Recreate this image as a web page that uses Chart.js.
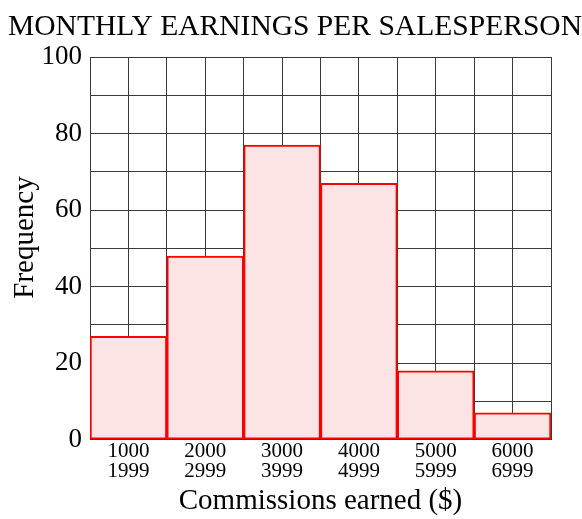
<!DOCTYPE html>
<html>
<head>
<meta charset="utf-8">
<script src="https://cdn.jsdelivr.net/npm/chart.js@4/dist/chart.umd.min.js"></script>
<style>
  html, body { margin: 0; padding: 0; background: #fff; }
  #wrap { width: 582px; height: 519px; }
</style>
</head>
<body>
<div id="wrap"><canvas id="graph" width="582" height="519"></canvas></div>
<script>
// class intervals (lower / upper) and counts
const lowerBounds = ['1000', '2000', '3000', '4000', '5000', '6000'];
const upperBounds = ['1999', '2999', '3999', '4999', '5999', '6999'];
const frequencies = [27, 48, 77, 67, 18, 7];

// the vertical grid splits every class in two halves
const halfSteps = lowerBounds.flatMap(l => [l + 'a', l + 'b']);

const serif = "'Liberation Serif', 'DejaVu Serif', serif";
const gridColor = '#3a3a3a';

const ctx = document.getElementById('graph').getContext('2d');
new Chart(ctx, {
    type: 'bar',
    data: {
        labels: lowerBounds.map((l, i) => [l, upperBounds[i]]),
        datasets: [{
            label: 'Frequency',
            data: frequencies,
            backgroundColor: '#fde4e4',
            borderColor: '#ff0000',
            borderWidth: 2,
            borderSkipped: false,
            barPercentage: 1,
            categoryPercentage: 1
        }]
    },
    options: {
        responsive: false,
        animation: false,
        layout: { padding: { top: 0, right: 0, left: 8, bottom: 0 } },
        plugins: {
            legend: { display: false },
            tooltip: { enabled: false },
            title: {
                display: true,
                text: 'MONTHLY EARNINGS PER SALESPERSON',
                color: '#000',
                font: { family: serif, size: 30, weight: 'normal' },
                padding: { top: 9.5, bottom: 11.5 }
            }
        },
        scales: {
            x: {
                type: 'category',
                offset: true,
                grid: { display: false, drawTicks: false },
                border: { color: gridColor },
                ticks: {
                    maxRotation: 0,
                    padding: 2.3,
                    color: '#000',
                    font: { family: serif, size: 21, lineHeight: 0.95 }
                },
                title: {
                    display: true,
                    text: 'Commissions earned ($)',
                    color: '#000',
                    font: { family: serif, size: 29 },
                    padding: { top: 0, bottom: 0 }
                }
            },
            xGrid: {
                type: 'category',
                labels: halfSteps,
                position: 'bottom',
                offset: true,
                grid: { color: gridColor, lineWidth: 1, drawTicks: false, offset: true },
                border: { display: false },
                ticks: { display: false }
            },
            y: {
                min: 0,
                max: 100,
                grid: { color: gridColor, lineWidth: 1, drawTicks: false },
                border: { color: gridColor },
                afterFit: (scale) => { scale.width = 82; },
                ticks: {
                    stepSize: 10,
                    padding: 8,
                    color: '#000',
                    font: { family: serif, size: 27 },
                    callback: (v) => (v % 20 === 0 ? v : '')
                },
                title: {
                    display: true,
                    // leading spaces nudge the rotated label a little above centre
                    text: '   Frequency',
                    color: '#000',
                    font: { family: serif, size: 29 },
                    padding: { top: 0, bottom: 2 }
                }
            },
            yRight: {
                type: 'linear',
                position: 'right',
                grid: { display: false, drawTicks: false },
                border: { display: false },
                ticks: { display: false },
                afterFit: (scale) => { scale.width = 31; }
            }
        }
    }
});
</script>
</body>
</html>
